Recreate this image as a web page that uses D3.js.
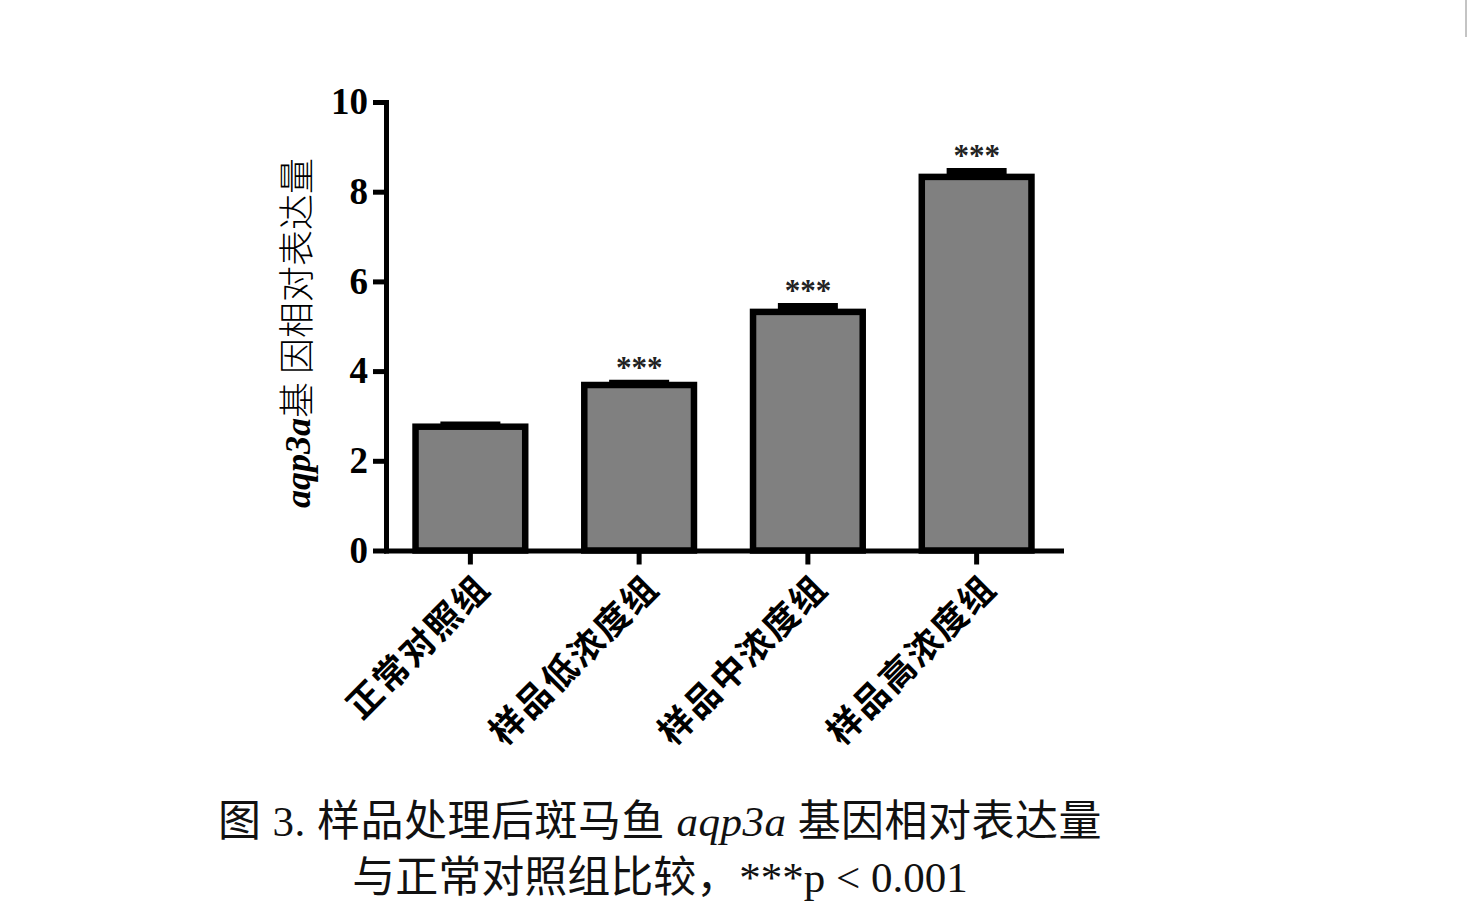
<!DOCTYPE html>
<html>
<head>
<meta charset="utf-8">
<script src="https://cdn.jsdelivr.net/npm/d3@7"></script>
<style>
  body { margin: 0; background: #fff; }
  svg { display: block; }
</style>
</head>
<body>
<div class="canvas"></div>
<script>
      // data
      const groups = ['正常对照组', '样品低浓度组', '样品中浓度组', '样品高浓度组'];
      const means = [2.76, 3.69, 5.32, 8.33];
      const errors = [0.05, 0.05, 0.13, 0.13];
      const marks = ['', '***', '***', '***'];
      const yTicks = [0, 2, 4, 6, 8, 10];

      const serif = '"Liberation Serif", "Times New Roman", serif';
      const cjk = '"Liberation Serif", "Noto Sans CJK SC", serif';

      const svg = d3.select('.canvas')
        .append('svg')
        .attr('width', 1468)
        .attr('height', 922);

      svg.append('rect')
        .attr('width', 1468)
        .attr('height', 922)
        .attr('fill', '#fff');

      // thin grey border line at the right edge of the screenshot
      svg.append('line')
        .attr('x1', 1466).attr('x2', 1466)
        .attr('y1', 0).attr('y2', 37)
        .attr('stroke', '#c4c4c4')
        .attr('stroke-width', 2);

      // scales
      const x = d3.scaleBand()
        .domain(groups)
        .range([386, 1061])
        .paddingInner(0.35)
        .paddingOuter(0.175);

      const y = d3.scaleLinear()
        .domain([0, 10])
        .range([550.5, 102]);

      // bars
      svg.selectAll('rect.bar')
        .data(groups)
        .enter()
        .append('rect')
          .attr('class', 'bar')
          .attr('x', d => x(d))
          .attr('width', x.bandwidth())
          .attr('y', (d, i) => y(means[i]))
          .attr('height', (d, i) => y(0) - y(means[i]))
          .attr('fill', '#808080')
          .attr('stroke', '#000')
          .attr('stroke-width', 6.5);

      // error bars (upper half only, like the original)
      const errG = svg.append('g');
      groups.forEach((g, i) => {
        const cx = x(g) + x.bandwidth() / 2;
        errG.append('line')
          .attr('x1', cx).attr('x2', cx)
          .attr('y1', y(means[i])).attr('y2', y(means[i] + errors[i]))
          .attr('stroke', '#000').attr('stroke-width', 6);
        errG.append('line')
          .attr('x1', cx - 30).attr('x2', cx + 30)
          .attr('y1', y(means[i] + errors[i])).attr('y2', y(means[i] + errors[i]))
          .attr('stroke', '#000').attr('stroke-width', 6);
      });

      // significance stars
      svg.selectAll('text.sig')
        .data(groups)
        .enter()
        .append('text')
          .attr('class', 'sig')
          .attr('x', d => x(d) + x.bandwidth() / 2)
          .attr('y', (d, i) => y(means[i] + errors[i]) - 5)
          .attr('text-anchor', 'middle')
          .attr('font-family', serif)
          .attr('font-weight', 'bold')
          .attr('font-size', 31)
          .attr('fill', '#222')
          .text((d, i) => marks[i]);

      // axes
      const yAxis = d3.axisLeft(y)
        .tickValues(yTicks)
        .tickSize(13)
        .tickSizeOuter(0)
        .tickPadding(5);

      const xAxis = d3.axisBottom(x)
        .tickSize(14)
        .tickSizeOuter(0)
        .tickFormat('');

      const yaxisGroup = svg.append('g')
        .attr('transform', 'translate(386,0)')
        .call(yAxis);

      const xaxisGroup = svg.append('g')
        .attr('transform', 'translate(0,550.5)')
        .call(xAxis);

      [yaxisGroup, xaxisGroup].forEach(g => {
        g.select('.domain')
          .attr('stroke', '#000')
          .attr('stroke-width', 5)
          .attr('stroke-linecap', 'square');
        g.selectAll('.tick line')
          .attr('stroke', '#000')
          .attr('stroke-width', 5);
      });

      yaxisGroup.selectAll('text')
        .attr('font-family', serif)
        .attr('font-weight', 'bold')
        .attr('font-size', 37)
        .attr('fill', '#000');

      // rotated category labels
      svg.selectAll('text.cat')
        .data(groups)
        .enter()
        .append('text')
          .attr('class', 'cat')
          .attr('transform', d => `translate(${x(d) + x.bandwidth() / 2 + 22},${590}) rotate(-45)`)
          .attr('text-anchor', 'end')
          .attr('font-family', '"Noto Sans CJK SC", sans-serif')
          .attr('font-weight', 'bold')
          .attr('font-size', 35)
          .attr('letter-spacing', 2)
          .attr('fill', '#000')
          .text(d => d);

      // y axis title
      const ylab = svg.append('text')
        .attr('transform', 'translate(310,508) rotate(-90)')
        .attr('text-anchor', 'start')
        .attr('font-size', 36)
        .attr('fill', '#000');
      ylab.append('tspan')
        .attr('font-family', serif)
        .attr('font-weight', 'bold')
        .attr('font-style', 'italic')
        .text('aqp3a');
      ylab.append('tspan')
        .attr('font-family', '"Noto Sans CJK SC", sans-serif')
        .attr('font-weight', 300)
        .text('基 因相对表达量');

      // caption
      const cap1 = svg.append('text')
        .attr('x', 660)
        .attr('y', 836)
        .attr('text-anchor', 'middle')
        .attr('font-family', cjk)
        .attr('font-size', 43)
        .attr('letter-spacing', 0.5)
        .attr('fill', '#111');
      cap1.append('tspan').text('图 3.  样品处理后斑马鱼 ');
      cap1.append('tspan').attr('font-style', 'italic').text('aqp3a');
      cap1.append('tspan').text(' 基因相对表达量');

      svg.append('text')
        .attr('x', 660)
        .attr('y', 892)
        .attr('text-anchor', 'middle')
        .attr('font-family', cjk)
        .attr('font-size', 43)
        .attr('fill', '#111')
        .text('与正常对照组比较，***p < 0.001');
</script>
</body>
</html>
